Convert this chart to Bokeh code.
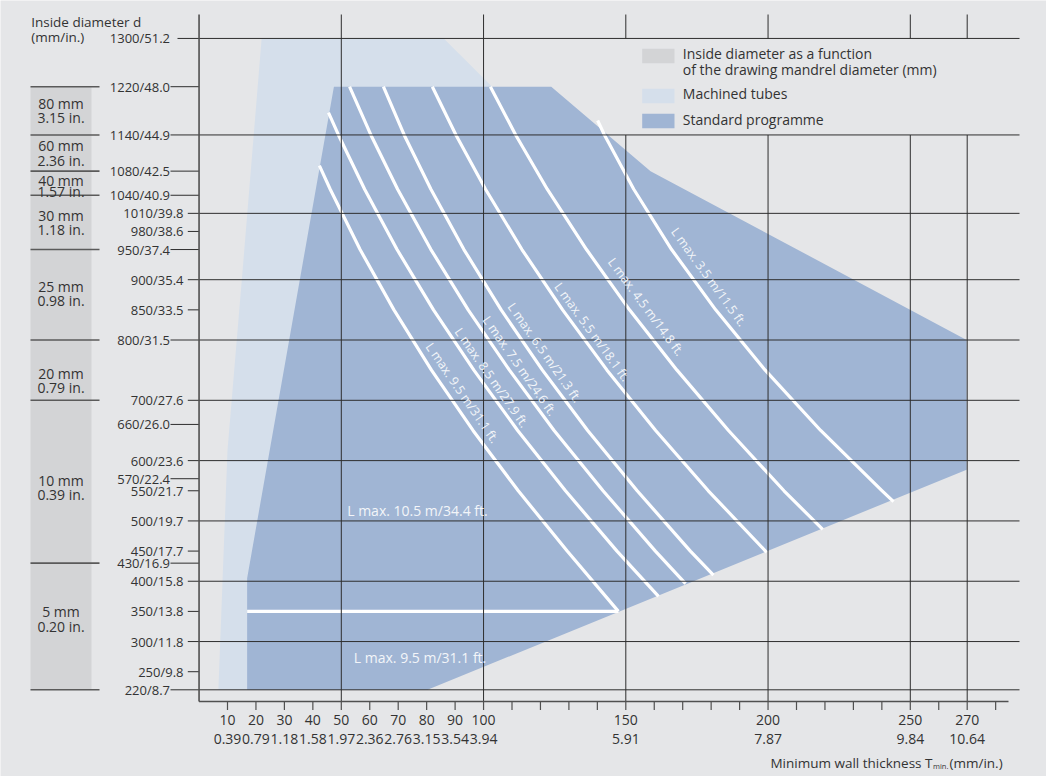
from bokeh.plotting import figure
from bokeh.models import Range1d
from bokeh.core.properties import value
from bokeh.embed import file_html
from bokeh.resources import INLINE

# ---------------- data (mm) ----------------
y_tick_mm = [1300, 1220, 1140, 1080, 1040, 1010, 980, 950, 900, 850, 800, 700,
             660, 600, 570, 550, 500, 450, 430, 400, 350, 300, 250, 220]
y_tick_in = ["51.2", "48.0", "44.9", "42.5", "40.9", "39.8", "38.6", "37.4", "35.4",
             "33.5", "31.5", "27.6", "26.0", "23.6", "22.4", "21.7", "19.7", "17.7",
             "16.9", "15.8", "13.8", "11.8", "9.8", "8.7"]
y_long_ticks = [1300, 1220, 1140, 1080, 1040, 950, 800, 660, 570, 430, 220]
y_grid_mm = [1300, 1140, 1010, 900, 800, 700, 600, 500, 400, 300, 220]

x_label_mm = [10, 20, 30, 40, 50, 60, 70, 80, 90, 100, 150, 200, 250, 270]
x_label_in = ["0.39", "0.79", "1.18", "1.58", "1.97", "2.36", "2.76", "3.15",
              "3.54", "3.94", "5.91", "7.87", "9.84", "10.64"]
x_tick_mm = list(range(10, 290, 10))
x_grid_mm = [50, 100, 150, 200, 250, 270]

mandrel_bounds = [1220, 1140, 1080, 1040, 950, 800, 700, 430, 220]
mandrel_mm = ["80 mm", "60 mm", "40 mm", "30 mm", "25 mm", "20 mm", "10 mm", "5 mm"]
mandrel_in = ["3.15 in.", "2.36 in.", "1.57 in.", "1.18 in.", "0.98 in.", "0.79 in.",
              "0.39 in.", "0.20 in."]

# Machined tubes area (T mm, d mm)
mach_T = [6.8, 10.0, 15.6, 22.0, 86.0, 120.0, 60.0]
mach_d = [220, 617, 932, 1300, 1300, 1140, 220]

# Standard programme area
std_T = [47.4, 123.8, 158.7, 269.8, 269.8, 80.3, 16.9, 16.9]
std_d = [1220, 1220, 1080, 800, 585, 220, 220, 405]

# L max curves (T mm, d mm)
curve_names = ["L max. 9.5 m/31.1 ft.", "L max. 8.5 m/27.9 ft.", "L max. 7.5 m/24.6 ft.",
               "L max. 6.5 m/21.3 ft.", "L max. 5.5 m/18.1 ft.", "L max. 4.5 m/14.8 ft.",
               "L max. 3.5 m/11.5 ft."]
cA_T = [42.3, 46.1, 56.6, 68.5, 81.7, 96.3, 112.2, 129.4, 147.4]
cA_d = [1089, 1050, 950, 850, 750, 650, 550, 450, 350]
cB_T = [45.5, 49.0, 58.2, 69.6, 82.4, 96.6, 112.0, 128.8, 146.9, 161.5]
cB_d = [1177, 1140, 1050, 950, 850, 750, 650, 550, 450, 375]
cC_T = [52.9, 60.4, 69.8, 81.5, 94.6, 109.1, 124.8, 142.0, 160.4, 171.0]
cC_d = [1220, 1140, 1050, 950, 850, 750, 650, 550, 450, 396]
cD_T = [64.8, 72.1, 81.5, 93.1, 106.2, 120.7, 136.6, 154.0, 172.7, 180.8]
cD_d = [1220, 1140, 1050, 950, 850, 750, 650, 550, 450, 410]
cE_T = [82.0, 90.3, 100.7, 113.5, 127.8, 143.4, 160.5, 179.0, 199.5]
cE_d = [1220, 1140, 1050, 950, 850, 750, 650, 550, 448]
cF_T = [102.4, 111.3, 122.4, 136.2, 151.3, 168.0, 186.1, 205.6, 219.2]
cF_d = [1220, 1140, 1050, 950, 850, 750, 650, 550, 486]
cG_T = [140.1, 142.5, 152.8, 166.1, 181.6, 199.0, 218.5, 240.1, 244.1]
cG_d = [1164, 1140, 1050, 950, 850, 750, 650, 550, 532]
split_d = 350   # L max 10.5 / 9.5 boundary

legend_labels = [["Inside diameter as a function", "of the drawing mandrel diameter (mm)"],
                 ["Machined tubes"], ["Standard programme"]]

# ---------------- styling ----------------
BG = "#e5e6e8"
BAND = "#d3d4d6"
MACH = "#d5dfeb"
STD = "#a0b5d4"
GRID = "#2e2e2e"
TXT = "#333333"
FONT = value("Open Sans")

W, H = 1046, 776
# pixel calibration of the drawing
PX0, PXS = 198.55, 2.845
PY220, PYS = 689.3, 0.6031


def X(px):
    return (px - PX0) / PXS


def Y(py):
    return 220 + (PY220 - py) / PYS


p = figure(width=W, height=H, x_range=Range1d(X(0), X(W)),
           y_range=Range1d(Y(H), Y(0)), output_backend="svg",
           toolbar_location=None, min_border=0, x_axis_type=None, y_axis_type=None)
p.outline_line_color = None
p.background_fill_color = BG
p.border_fill_color = BG

# mandrel band
p.quad(left=[X(30)], right=[X(91)], bottom=[mandrel_bounds[-1]], top=[mandrel_bounds[0]],
       fill_color=BAND, line_color=None)
p.segment(x0=[X(30)] * len(mandrel_bounds), x1=[X(99)] * len(mandrel_bounds),
          y0=mandrel_bounds, y1=mandrel_bounds, line_color="#5a5a5a", line_width=1.6)
band_line_px = [(103, 117), (145, 160), (179.5, 190.5), (215, 229), (285.7, 300),
                (373.3, 387.3), (480, 494.3), (611, 626)]
p.text(x=[X(60.5)] * 8, y=[Y(a) for a, b in band_line_px], text=mandrel_mm,
       text_font=FONT, text_font_size="14px", text_color=TXT, text_align="center",
       text_baseline="middle")
p.text(x=[X(60.5)] * 8, y=[Y(b) for a, b in band_line_px], text=mandrel_in,
       text_font=FONT, text_font_size="14px", text_color=TXT, text_align="center",
       text_baseline="middle")

# areas
p.patch(mach_T, mach_d, fill_color=MACH, line_color=None)
p.patch(std_T, std_d, fill_color=STD, line_color=None)

# curves
curves_T = [cA_T, cB_T, cC_T, cD_T, cE_T, cF_T, cG_T]
curves_d = [cA_d, cB_d, cC_d, cD_d, cE_d, cF_d, cG_d]
p.multi_line(curves_T, curves_d, line_color="white", line_width=3.2, line_join="round")
p.segment(x0=[std_T[6]], x1=[cA_T[-1]], y0=[split_d], y1=[split_d],
          line_color="white", line_width=3.2)

# vertical grid lines
top_d = Y(14)
bot_d = Y(701)
p.segment(x0=x_grid_mm, x1=x_grid_mm, y0=[bot_d] * len(x_grid_mm), y1=[top_d] * len(x_grid_mm),
          line_color=GRID, line_width=1)
# legend cover
p.quad(left=[X(610)], right=[X(1019)], bottom=[1140], top=[1300], fill_color=BG, line_color=None)

# horizontal lines / ticks
x0s, x1s, ys = [], [], []
for v in y_tick_mm:
    if v == 1300:
        start = X(177)
    elif v in y_long_ticks:
        start = X(170)
    else:
        start = X(187.3)
    end = X(1019) if v in y_grid_mm else 0
    x0s.append(start)
    x1s.append(end)
    ys.append(v)
p.segment(x0=x0s, x1=x1s, y0=ys, y1=ys, line_color=GRID, line_width=1)

# axes lines
p.segment(x0=[0], x1=[0], y0=[bot_d], y1=[top_d], line_color="#505050", line_width=1.6)
p.segment(x0=[0], x1=[X(1008)], y0=[bot_d], y1=[bot_d], line_color="#505050", line_width=1.4)
p.segment(x0=x_tick_mm, x1=x_tick_mm, y0=[bot_d] * len(x_tick_mm),
          y1=[Y(709.5)] * len(x_tick_mm), line_color="#505050", line_width=1.2)

# y tick labels
lab_x = [X(169.5) if v in y_long_ticks else X(183) for v in y_tick_mm]
lab_t = ["%d/%s" % (v, s) for v, s in zip(y_tick_mm, y_tick_in)]
p.text(x=lab_x, y=y_tick_mm, text=lab_t, text_font=FONT, text_font_size="13px",
       text_color=TXT, text_align="right", text_baseline="middle")

# x tick labels
p.text(x=x_label_mm, y=[Y(719.5)] * len(x_label_mm), text=[str(v) for v in x_label_mm],
       text_font=FONT, text_font_size="14px", text_color=TXT, text_align="center",
       text_baseline="middle")
p.text(x=x_label_mm, y=[Y(738)] * len(x_label_mm), text=x_label_in,
       text_font=FONT, text_font_size="14px", text_color=TXT, text_align="center",
       text_baseline="middle")

# axis titles
p.text(x=[X(30.7)] * 2, y=[Y(21.5), Y(36)], text=["Inside diameter d", "(mm/in.)"],
       text_font=FONT, text_font_size="13.5px", text_color=TXT, text_align="left",
       text_baseline="middle")
p.text(x=[X(932)], y=[Y(762)], text=["Minimum wall thickness T"], text_font=FONT,
       text_font_size="13.5px", text_color=TXT, text_align="right", text_baseline="middle")
p.text(x=[X(932.5)], y=[Y(765.5)], text=["min."], text_font=FONT,
       text_font_size="7.5px", text_color=TXT, text_align="left", text_baseline="middle")
p.text(x=[X(949)], y=[Y(762)], text=["(mm/in.)"], text_font=FONT,
       text_font_size="13.5px", text_color=TXT, text_align="left", text_baseline="middle")

# legend
sw_y = [(48.3, 62.7), (88.3, 102.7), (113.3, 127.7)]
p.quad(left=[X(641.7)] * 3, right=[X(674)] * 3, top=[Y(a) for a, b in sw_y],
       bottom=[Y(b) for a, b in sw_y], fill_color=[BAND, MACH, STD], line_color=None)
leg_y = [[53.3, 69.3], [93.3], [119.3]]
lx, ly, lt = [], [], []
for labs, yy in zip(legend_labels, leg_y):
    for t, y in zip(labs, yy):
        lx.append(X(682.3))
        ly.append(Y(y))
        lt.append(t)
p.text(x=lx, y=ly, text=lt, text_font=FONT, text_font_size="14px", text_color=TXT,
       text_align="left", text_baseline="middle")

# curve labels
lab_px = [(428.3, 343.7), (457.3, 328.7), (485.3, 317), (510.3, 303.7), (557, 283.7),
          (610.3, 258.7), (673.6, 228.7)]
lab_ang = [-55.5, -55, -55, -55, -54, -53.5, -54]
p.text(x=[X(a) for a, b in lab_px], y=[Y(b) for a, b in lab_px], text=curve_names,
       angle=lab_ang, angle_units="deg", text_font=FONT, text_font_size="12.5px",
       text_color="#f3f5f9", text_align="left", text_baseline="middle")
p.text(x=[X(346.7), X(353.3)], y=[Y(510), Y(656.7)],
       text=["L max. 10.5 m/34.4 ft.", "L max. 9.5 m/31.1 ft."], text_font=FONT,
       text_font_size="14px", text_color="#f3f5f9", text_align="left", text_baseline="middle")

open("out.html", "w").write(file_html(p, INLINE))
